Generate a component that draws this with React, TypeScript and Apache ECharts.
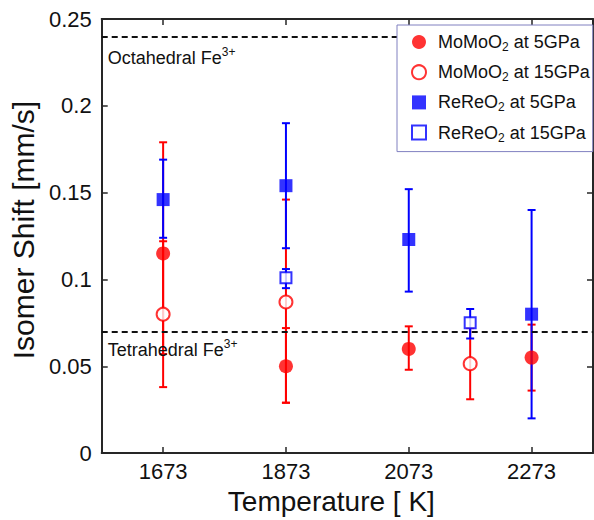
import React, { useEffect, useRef } from "react";
import * as echarts from "echarts";

const FONT = '"Liberation Sans", Arial, Helvetica, sans-serif';

// Tick labels / categories (temperatures in K)
const tempTicks = [1673, 1873, 2073, 2273];

// MoMoO2 at 5GPa
const mo5X = [1673, 1873, 2073, 2273];
const mo5Y = [0.115, 0.050, 0.060, 0.055];
const mo5Lo = [0.057, 0.029, 0.048, 0.036];
const mo5Hi = [0.179, 0.072, 0.073, 0.074];

// MoMoO2 at 15GPa
const mo15X = [1673, 1873, 2173];
const mo15Y = [0.080, 0.087, 0.0515];
const mo15Lo = [0.038, 0.029, 0.031];
const mo15Hi = [0.122, 0.146, 0.072];

// ReReO2 at 5GPa
const re5X = [1673, 1873, 2073, 2273];
const re5Y = [0.146, 0.154, 0.123, 0.080];
const re5Lo = [0.124, 0.118, 0.093, 0.020];
const re5Hi = [0.169, 0.190, 0.152, 0.140];

// ReReO2 at 15GPa
const re15X = [1873, 2173];
const re15Y = [0.101, 0.075];
const re15Lo = [0.095, 0.066];
const re15Hi = [0.106, 0.083];

// Reference levels
const octahedral = 0.24;
const tetrahedral = 0.07;

const RED = "#ff0000";
const BLUE = "#0000ff";
const AXIS = "#262626";

function errData(xs: number[], lo: number[], hi: number[]) {
  return xs.map((x, i) => [x, lo[i], hi[i]]);
}
function ptData(xs: number[], ys: number[]) {
  return xs.map((x, i) => [x, ys[i]]);
}

function errSeries(name: string, data: number[][], color: string) {
  return {
    type: "custom",
    name,
    xAxisIndex: 0,
    yAxisIndex: 0,
    silent: true,
    z: 2,
    encode: { x: 0, y: [1, 2] },
    data,
    renderItem: (params: any, api: any) => {
      const x = api.value(0);
      const lo = api.coord([x, api.value(1)]);
      const hi = api.coord([x, api.value(2)]);
      const c = 4;
      const st = { stroke: color, lineWidth: 2 };
      return {
        type: "group",
        children: [
          { type: "line", shape: { x1: lo[0], y1: lo[1], x2: hi[0], y2: hi[1] }, style: st },
          { type: "line", shape: { x1: lo[0] - c, y1: lo[1], x2: lo[0] + c, y2: lo[1] }, style: st },
          { type: "line", shape: { x1: hi[0] - c, y1: hi[1], x2: hi[0] + c, y2: hi[1] }, style: st },
        ],
      };
    },
  };
}

export default function App() {
  const ref = useRef<HTMLDivElement>(null);
  useEffect(() => {
    if (!ref.current) return;
    const chart = echarts.init(ref.current, undefined, { renderer: "svg" });
    const labelRich = {
      t: { fontSize: 18, fontFamily: FONT, color: "#111" },
      p: { fontSize: 12, fontFamily: FONT, color: "#111", padding: [0, 0, 12, 0] },
    };
    const option: any = {
      animation: false,
      backgroundColor: "#fff",
      textStyle: { fontFamily: FONT },
      grid: { left: 97, right: 1, top: 19, bottom: 64, containLabel: false },
      legend: {
        orient: "vertical",
        left: 397,
        top: 25,
        z: 20,
        padding: [8, 3, 8, 14],
        itemGap: 10.2,
        itemWidth: 14,
        itemHeight: 14,
        borderColor: "#8080c0",
        borderWidth: 1,
        backgroundColor: "#fff",
        data: ["MoMoO2 at 5GPa", "MoMoO2 at 15GPa", "ReReO2 at 5GPa", "ReReO2 at 15GPa"],
        formatter: (name: string) => {
          const parts = name.split("2 at");
          return `{f|${parts[0]}}{s|2}{m| at${parts[1]}}`;
        },
        textStyle: {
          fontFamily: FONT,
          fontSize: 18,
          color: "#111",
          rich: {
            f: { fontSize: 18, fontFamily: FONT, color: "#111", padding: [0, 0, 0, 7] },
            s: { fontSize: 12, fontFamily: FONT, color: "#111", padding: [10, 0, 0, 0] },
            m: { fontSize: 18, fontFamily: FONT, color: "#111" },
          },
        },
      },
      xAxis: [
        {
          type: "value",
          position: "bottom",
          min: 1573,
          max: 2373,
          name: "Temperature [ K]",
          nameLocation: "middle",
          nameGap: 15,
          nameTextStyle: { fontSize: 28, fontFamily: FONT, color: "#111", padding: [0, 32, 0, 0] },
          axisLine: { onZero: false, lineStyle: { color: AXIS, width: 2 } },
          axisTick: { inside: true, length: 6, customValues: tempTicks, lineStyle: { color: AXIS, width: 1.5 } },
          axisLabel: {
            customValues: tempTicks,
            formatter: (v: number) => String(v),
            fontSize: 22,
            fontFamily: FONT,
            color: "#111",
            margin: 7,
          },
          splitLine: { show: false },
        },
        {
          type: "value",
          position: "top",
          min: 1573,
          max: 2373,
          axisLine: { onZero: false, lineStyle: { color: AXIS, width: 2 } },
          axisTick: { inside: true, length: 6, customValues: tempTicks, lineStyle: { color: AXIS, width: 1.5 } },
          axisLabel: { show: false },
          splitLine: { show: false },
        },
      ],
      yAxis: [
        {
          type: "value",
          position: "left",
          min: 0,
          max: 0.25,
          interval: 0.05,
          name: "Isomer Shift [mm/s]",
          nameLocation: "middle",
          nameGap: 63,
          nameTextStyle: { fontSize: 30, fontFamily: FONT, color: "#111", padding: [0, 0, 0, 12] },
          axisLine: { show: true, onZero: false, lineStyle: { color: AXIS, width: 2 } },
          axisTick: { show: true, inside: true, length: 6, lineStyle: { color: AXIS, width: 1.5 } },
          axisLabel: { fontSize: 22, fontFamily: FONT, color: "#111", margin: 10 },
          splitLine: { show: false },
        },
        {
          type: "value",
          position: "right",
          min: 0,
          max: 0.25,
          interval: 0.05,
          axisLine: { show: true, onZero: false, lineStyle: { color: AXIS, width: 2 } },
          axisTick: { show: true, inside: true, length: 6, lineStyle: { color: AXIS, width: 1.5 } },
          axisLabel: { show: false },
          splitLine: { show: false },
        },
      ],
      series: [
        {
          type: "line",
          name: "refs",
          data: [],
          silent: true,
          z: 1,
          markLine: {
            silent: true,
            symbol: "none",
            animation: false,
            lineStyle: { type: [6, 4], color: "#111", width: 2 },
            label: {
              show: true,
              position: "insideStartBottom",
              rich: labelRich,
            },
            data: [
              { yAxis: octahedral, label: { formatter: "{t|Octahedral Fe}{p|3+}", distance: [6, 10] } },
              { yAxis: tetrahedral, label: { formatter: "{t|Tetrahedral Fe}{p|3+}", distance: [6, 6] } },
            ],
          },
        },
        errSeries("err-mo5", errData(mo5X, mo5Lo, mo5Hi), RED),
        errSeries("err-mo15", errData(mo15X, mo15Lo, mo15Hi), RED),
        errSeries("err-re5", errData(re5X, re5Lo, re5Hi), BLUE),
        errSeries("err-re15", errData(re15X, re15Lo, re15Hi), BLUE),
        {
          type: "scatter",
          name: "MoMoO2 at 5GPa",
          z: 5,
          symbol: "circle",
          symbolSize: 14,
          itemStyle: { color: RED },
          data: ptData(mo5X, mo5Y),
        },
        {
          type: "scatter",
          name: "MoMoO2 at 15GPa",
          z: 5,
          symbol: "circle",
          symbolSize: 13,
          itemStyle: { color: "#fff", borderColor: RED, borderWidth: 2 },
          data: ptData(mo15X, mo15Y),
        },
        {
          type: "scatter",
          name: "ReReO2 at 5GPa",
          z: 5,
          symbol: "rect",
          symbolSize: 13,
          itemStyle: { color: BLUE },
          data: ptData(re5X, re5Y),
        },
        {
          type: "scatter",
          name: "ReReO2 at 15GPa",
          z: 5,
          symbol: "rect",
          symbolSize: 11,
          itemStyle: { color: "#fff", borderColor: BLUE, borderWidth: 2 },
          data: ptData(re15X, re15Y),
        },
      ],
    };
    chart.setOption(option);
    return () => chart.dispose();
  }, []);
  return (
    <div
      ref={ref}
      style={{ position: "absolute", left: 0, top: 0, width: 594, height: 520, background: "#fff" }}
    />
  );
}
